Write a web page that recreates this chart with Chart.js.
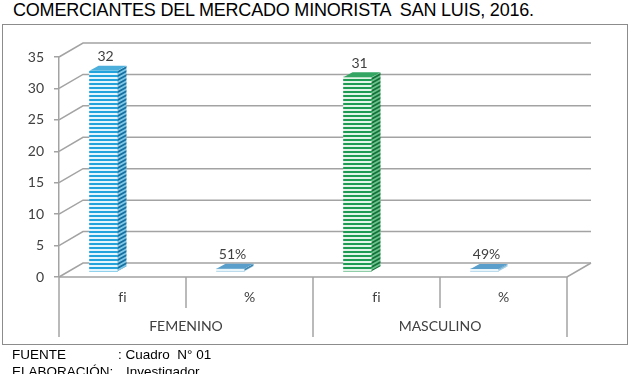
<!DOCTYPE html>
<html>
<head>
<meta charset="utf-8">
<script src="https://cdn.jsdelivr.net/npm/chart.js@4.4.1/dist/chart.umd.min.js"></script>
<style>
  html, body { margin: 0; padding: 0; background: #fff; }
  #page { position: relative; width: 632px; height: 374px; overflow: hidden; }
  #title { position: absolute; left: 13px; top: 0px; font: 18px "Liberation Sans", Arial, sans-serif; color: #000; white-space: pre; letter-spacing: -0.2px; }
  #box { position: absolute; left: 2px; top: 24px; width: 624px; height: 319px; border: 1px solid #8c8c8c; }
  #chart { position: absolute; left: 0; top: 0; }
  .foot { position: absolute; font: 13.5px "Liberation Sans", Arial, sans-serif; color: #000; white-space: pre; }
</style>
</head>
<body>
<div id="page">
  <div id="title">COMERCIANTES DEL MERCADO MINORISTA  SAN LUIS, 2016.</div>
  <div id="box"></div>
  <canvas id="chart" width="632" height="374"></canvas>
  <div class="foot" style="left:12px; top:347px;">FUENTE</div>
  <div class="foot" style="left:118px; top:347px;">: Cuadro  N° 01</div>
  <div class="foot" style="left:12px; top:364px;">ELABORACIÓN:</div>
  <div class="foot" style="left:126px; top:364px;">Investigador</div>
</div>
<script>
// data
var categories = ['fi', '%', 'fi', '%'];
var groups = ['FEMENINO', 'MASCULINO'];
var values = [32, 0.51, 31, 0.49];
var valueLabels = ['32', '51%', '31', '49%'];
var yMax = 35;
var yStep = 5;

// 3d look
var DEPTH = { x: 24, y: 14 };     // floor / wall depth
var BAR_OFF = { x: -19, y: -5 };  // bars sit inside the depth
var BAR_D = { x: 9, y: 5 };       // bar own depth

var canvas = document.getElementById('chart');
var ctx0 = canvas.getContext('2d');

function stripes(dark, light, skew) {
    var p = document.createElement('canvas');
    p.width = 4; p.height = 4;
    var g = p.getContext('2d');
    g.fillStyle = light; g.fillRect(0, 0, 4, 4);
    g.fillStyle = dark; g.fillRect(0, 0, 4, 2);
    var pat = ctx0.createPattern(p, 'repeat');
    if (skew) pat.setTransform(new DOMMatrix([1, skew, 0, 1, 0, 0]));
    return pat;
}

var blue = {
    front: stripes('#22a3dc', '#e4f5fd'),
    side: stripes('#17709e', '#7cc6e8', -BAR_D.y / BAR_D.x),
    top: '#4db0dc'
};
var steel = {
    front: stripes('#8cc3e0', '#e8f5fb'),
    side: stripes('#3e86b0', '#9ccbe4', -BAR_D.y / BAR_D.x),
    top: '#5a9fcb'
};
var green = {
    front: stripes('#1e9b52', '#e3f4e9'),
    side: stripes('#137238', '#6cc08c', -BAR_D.y / BAR_D.x),
    top: '#35a563'
};
var tones = [blue, steel, green, steel];

var grey = '#a3a3a3';
var labelFont = { family: 'Lato', size: 14 };

// keep "f" and "i" apart, as in the original
function noLigature(s) { return s.replace('fi', 'f\u200Ci'); }

var wall3d = {
    id: 'wall3d',
    beforeDatasetsDraw(chart) {
        var ctx = chart.ctx, a = chart.chartArea, y = chart.scales.y;
        ctx.save();
        ctx.strokeStyle = grey;
        ctx.lineWidth = 1.5;
        y.ticks.forEach(function (t) {
            var py = y.getPixelForValue(t.value);
            ctx.beginPath();
            ctx.moveTo(a.left, py);
            ctx.lineTo(a.left + DEPTH.x, py - DEPTH.y);
            ctx.lineTo(a.right + DEPTH.x, py - DEPTH.y);
            ctx.stroke();
        });
        ctx.beginPath();
        ctx.moveTo(a.left, a.bottom);
        ctx.lineTo(a.right, a.bottom);
        ctx.lineTo(a.right + DEPTH.x, a.bottom - DEPTH.y);
        ctx.stroke();
        ctx.restore();
    },
    beforeDatasetDraw(chart) {
        chart.ctx.save();
        chart.ctx.translate(BAR_OFF.x, BAR_OFF.y);
    },
    afterDatasetDraw(chart, args) {
        var ctx = chart.ctx;
        args.meta.data.forEach(function (el, i) {
            var r = el.x + el.width / 2, l = el.x - el.width / 2;
            ctx.fillStyle = tones[i].side;
            ctx.beginPath();
            ctx.moveTo(r, el.y);
            ctx.lineTo(r + BAR_D.x, el.y - BAR_D.y);
            ctx.lineTo(r + BAR_D.x, el.base - BAR_D.y);
            ctx.lineTo(r, el.base);
            ctx.closePath();
            ctx.fill();
            ctx.fillStyle = tones[i].top;
            ctx.beginPath();
            ctx.moveTo(l, el.y);
            ctx.lineTo(r, el.y);
            ctx.lineTo(r + BAR_D.x, el.y - BAR_D.y);
            ctx.lineTo(l + BAR_D.x, el.y - BAR_D.y);
            ctx.closePath();
            ctx.fill();
        });
        ctx.restore();
    },
    afterDatasetsDraw(chart) {
        var ctx = chart.ctx;
        var meta = chart.getDatasetMeta(0);
        ctx.save();
        ctx.fillStyle = '#404040';
        ctx.font = labelFont.size + 'px ' + labelFont.family;
        ctx.textAlign = 'center';
        ctx.textBaseline = 'middle';
        meta.data.forEach(function (el, i) {
            ctx.fillText(valueLabels[i], el.x + BAR_OFF.x + 2, el.y + BAR_OFF.y - 14);
        });
        ctx.restore();
    },
    afterDraw(chart) {
        // table lines under the floor
        var ctx = chart.ctx, a = chart.chartArea, x = chart.scales.x;
        var rowEnd = chart.scales.x.bottom;
        var tableEnd = chart.scales.x2.bottom;
        var n = categories.length;
        ctx.save();
        ctx.strokeStyle = grey;
        ctx.lineWidth = 1.5;
        for (var i = 0; i <= n; i++) {
            var px;
            if (i === 0) px = a.left;
            else if (i === n) px = a.right;
            else px = (x.getPixelForTick(i - 1) + x.getPixelForTick(i)) / 2;
            var bottom = (i % 2 === 0) ? tableEnd : rowEnd;
            ctx.beginPath();
            ctx.moveTo(px, a.bottom);
            ctx.lineTo(px, bottom);
            ctx.stroke();
        }
        ctx.restore();
    }
};

new Chart(canvas, {
    type: 'bar',
    data: {
        labels: categories,
        datasets: [{
            data: values,
            backgroundColor: tones.map(function (t) { return t.front; }),
            borderWidth: 0,
            barThickness: 28,
            clip: false
        }]
    },
    options: {
        responsive: false,
        animation: false,
        events: [],
        layout: { padding: { left: 0, top: 57, right: 65, bottom: 37 } },
        plugins: {
            legend: { display: false },
            tooltip: { enabled: false }
        },
        scales: {
            y: {
                min: 0,
                max: yMax,
                ticks: { stepSize: yStep, color: '#404040', padding: 10, font: labelFont },
                grid: { drawOnChartArea: false, drawTicks: true, tickLength: 5, color: grey, lineWidth: 1.5 },
                border: { display: true, color: grey, width: 1.5 },
                afterFit(s) { s.width = 59; }
            },
            x: {
                ticks: {
                    color: '#404040', padding: 12, font: labelFont,
                    callback: function (v) { return noLigature(categories[v]); }
                },
                grid: { display: false, drawTicks: false },
                border: { display: false },
                afterFit(s) { s.height = 31; }
            },
            x2: {
                type: 'category',
                labels: groups,
                position: 'bottom',
                offset: true,
                ticks: { color: '#404040', padding: 10, font: labelFont },
                grid: { display: false, drawTicks: false },
                border: { display: false },
                afterFit(s) { s.height = 29; }
            }
        }
    },
    plugins: [wall3d]
});
</script>
</body>
</html>
